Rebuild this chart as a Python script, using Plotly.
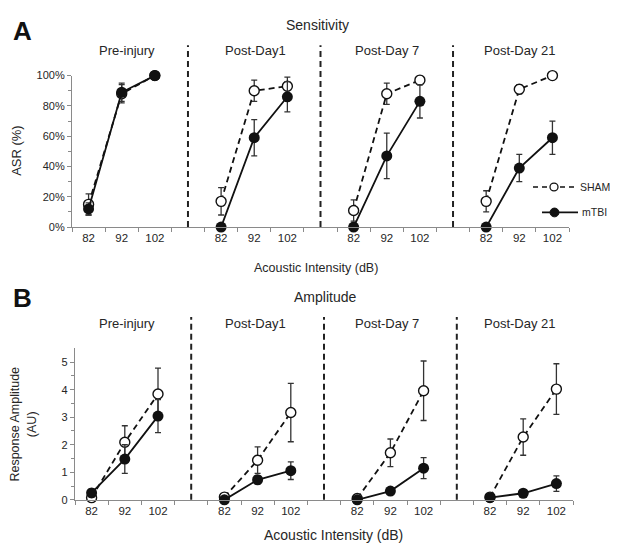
import plotly.graph_objects as go

groups = ["Pre-injury", "Post-Day1", "Post-Day 7", "Post-Day 21"]
intensities = ["82", "92", "102"]
series_names = ["SHAM", "mTBI"]

# Sensitivity (fraction)
sens_sham = [[0.15, 0.88, 1.00], [0.17, 0.90, 0.93], [0.11, 0.88, 0.97], [0.17, 0.91, 1.00]]
sens_sham_err = [[0.07, 0.06, 0.0], [0.09, 0.07, 0.06], [0.07, 0.07, 0.03], [0.07, 0.03, 0.0]]
sens_tbi = [[0.12, 0.89, 1.00], [0.0, 0.59, 0.86], [0.0, 0.47, 0.83], [0.0, 0.39, 0.59]]
sens_tbi_err = [[0.04, 0.06, 0.0], [0.0, 0.12, 0.10], [0.0, 0.15, 0.11], [0.0, 0.09, 0.11]]

# Amplitude (AU)
amp_sham = [[0.08, 2.09, 3.84], [0.10, 1.44, 3.17], [0.05, 1.71, 3.96], [0.10, 2.28, 4.02]]
amp_sham_err = [[0.08, 0.60, 0.94], [0.05, 0.48, 1.06], [0.04, 0.50, 1.08], [0.05, 0.66, 0.92]]
amp_tbi = [[0.25, 1.48, 3.04], [0.0, 0.73, 1.06], [0.0, 0.32, 1.15], [0.08, 0.24, 0.59]]
amp_tbi_err = [[0.15, 0.52, 0.60], [0.0, 0.15, 0.32], [0.0, 0.06, 0.38], [0.03, 0.06, 0.28]]

# page body has an 8px margin: figure is placed at (8, 8)
OFF = 8
W, H = 618 - 2 * OFF, 552 - 2 * OFF
FONT = "Arial, Liberation Sans, sans-serif"
TXT = "#262626"
AX = "#8a8a8a"


def px(X):
    return (X - OFF) / W


def py(Y):
    return 1 - (Y - OFF) / H


def flatten(vals):
    xs, ys = [], []
    for g, row in enumerate(vals):
        for i, v in enumerate(row):
            xs.append(g * 4 + i)
            ys.append(v)
        xs.append(g * 4 + 3)
        ys.append(None)
    return xs, ys


def flat_err(errs):
    out = []
    for row in errs:
        out.extend(row)
        out.append(None)
    return out


fig = go.Figure()


def add_panel(sham, sham_err, tbi, tbi_err, xa, ya):
    xs, ys = flatten(sham)
    fig.add_trace(go.Scatter(
        x=xs, y=ys, xaxis=xa, yaxis=ya, name=series_names[0], mode="lines+markers",
        line=dict(color="#111", width=1.8, dash="6px,4px"),
        marker=dict(symbol="circle", size=10, color="white", line=dict(color="#111", width=1.4)),
        error_y=dict(type="data", array=flat_err(sham_err), color="#333", thickness=1.3, width=3),
        connectgaps=False, showlegend=False, cliponaxis=False))
    xs, ys = flatten(tbi)
    fig.add_trace(go.Scatter(
        x=xs, y=ys, xaxis=xa, yaxis=ya, name=series_names[1], mode="lines+markers",
        line=dict(color="#111", width=1.8),
        marker=dict(symbol="circle", size=11, color="#111"),
        error_y=dict(type="data", array=flat_err(tbi_err), color="#333", thickness=1.3, width=3),
        connectgaps=False, showlegend=False, cliponaxis=False))


add_panel(sens_sham, sens_sham_err, sens_tbi, sens_tbi_err, "x", "y")
add_panel(amp_sham, amp_sham_err, amp_tbi, amp_tbi_err, "x2", "y2")

centers = [g * 4 + i for g in range(4) for i in range(3)]
labels = [intensities[i] for g in range(4) for i in range(3)]
bounds = [b - 0.5 for b in range(16)]

xcommon = dict(range=[-0.5, 14.5], tickmode="array", tickvals=centers, ticktext=labels,
               ticks="", showline=True, linecolor=AX, linewidth=1.2, zeroline=False,
               showgrid=False, tickfont=dict(size=11.5, color=TXT, family=FONT),
               minor=dict(tickmode="array", tickvals=bounds, ticks="outside", ticklen=4,
                          tickcolor=AX, tickwidth=1, showgrid=False))
ycommon = dict(ticks="outside", ticklen=4, tickcolor=AX, showline=True, linecolor=AX,
               linewidth=1.2, showgrid=False, zeroline=False,
               tickfont=dict(size=11, color=TXT, family=FONT))

fig.update_layout(
    width=W, height=H, paper_bgcolor="white", plot_bgcolor="white",
    margin=dict(l=0, r=0, t=0, b=0),
    font=dict(family=FONT, color=TXT),
    showlegend=False,
    xaxis=dict(domain=[px(72), px(569)], anchor="y", **xcommon),
    yaxis=dict(domain=[py(226), py(71)], range=[0, 1], anchor="x",
               tickvals=[0, 0.2, 0.4, 0.6, 0.8, 1.0], tickformat=".0%",
               minor=dict(tickmode="array", tickvals=[0.1, 0.3, 0.5, 0.7, 0.9], ticks="outside",
                          ticklen=3, tickcolor=AX, showgrid=False),
               **ycommon),
    xaxis2=dict(domain=[px(75), px(573)], anchor="y2", **xcommon),
    yaxis2=dict(domain=[py(505), py(350)], range=[0, 5.5], anchor="x2",
                tickvals=[0, 1, 2, 3, 4, 5],
                minor=dict(tickmode="array", tickvals=[0.5, 1.5, 2.5, 3.5, 4.5], ticks="outside",
                           ticklen=3, tickcolor=AX, showgrid=False),
                **ycommon),
)

# Separators
for xa, ytop, ybot in [("x", 40, 226), ("x2", 318, 505)]:
    for g in range(3):
        fig.add_shape(type="line", xref=xa, yref="paper", x0=g * 4 + 3, x1=g * 4 + 3,
                      y0=py(ybot), y1=py(ytop),
                      line=dict(color="#222", width=2, dash="6px,4px"))

# Legend (drawn manually so it can sit at the right edge)
fig.add_shape(type="line", xref="paper", yref="paper", x0=px(533), x1=px(577), y0=py(185), y1=py(185),
              line=dict(color="#111", width=1.6, dash="5px,4px"))
fig.add_shape(type="circle", xref="paper", yref="paper", x0=px(550), x1=px(558), y0=py(189), y1=py(181),
              fillcolor="white", line=dict(color="#111", width=1.3))
fig.add_shape(type="line", xref="paper", yref="paper", x0=px(542), x1=px(578), y0=py(211), y1=py(211),
              line=dict(color="#111", width=1.8))
fig.add_shape(type="circle", xref="paper", yref="paper", x0=px(550), x1=px(559), y0=py(215.5), y1=py(206.5),
              fillcolor="#111", line=dict(color="#111", width=1))

# Texts (X, Y are centre positions in the reference picture)
ann = [
    dict(text="<b>A</b>", X=22, Y=25, size=26, color="#111"),
    dict(text="<b>B</b>", X=22, Y=298, size=26, color="#111"),
    dict(text="Sensitivity", X=317, Y=19, size=14),
    dict(text="Amplitude", X=325, Y=297, size=14),
    dict(text="Acoustic Intensity (dB)", X=316, Y=268, size=12.5),
    dict(text="Acoustic Intensity (dB)", X=333, Y=541, size=14),
    dict(text="ASR (%)", X=17, Y=148, size=13, angle=-90),
    dict(text="Response Amplitude<br>(AU)", X=23, Y=428, size=12.5, angle=-90),
    dict(text=series_names[0], X=578, Y=185, size=10.5, anchor="left"),
    dict(text=series_names[1], X=580, Y=211, size=10.5, anchor="left"),
]
for name, xa, xb in zip(groups, [127, 255, 387, 520], [127, 255, 387, 520]):
    ann.append(dict(text=name, X=xa, Y=45, size=13))
    ann.append(dict(text=name, X=xb, Y=325, size=13))

annotations = []
for a in ann:
    annotations.append(dict(
        text=a["text"], x=px(a["X"]), y=py(a["Y"]), xref="paper", yref="paper",
        xanchor=a.get("anchor", "center"), yanchor="middle", showarrow=False,
        textangle=a.get("angle", 0),
        font=dict(size=a["size"], color=a.get("color", TXT), family=FONT)))
fig.update_layout(annotations=annotations)

fig.write_html("out.html")
